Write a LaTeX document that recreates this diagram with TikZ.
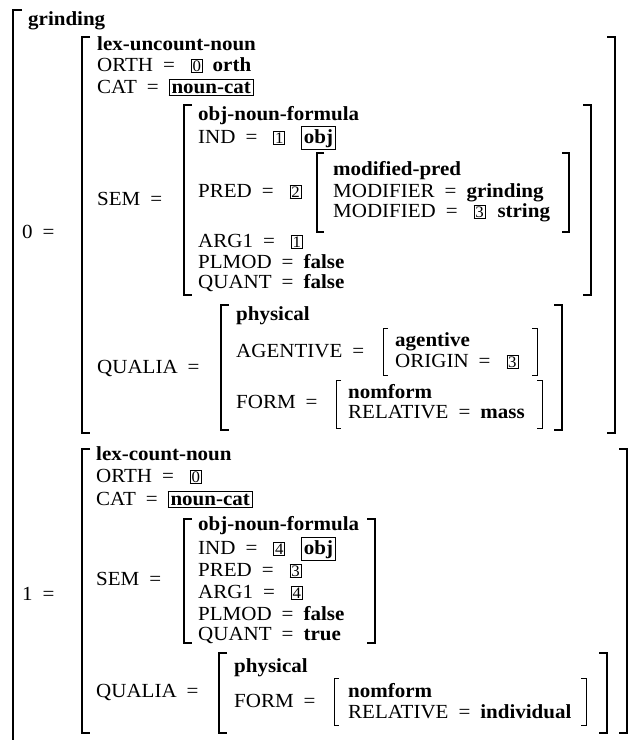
\documentclass[tikz,border=0pt]{standalone}
\usepackage{fontspec}
\setmainfont{Liberation Serif}[FakeStretch=1.05]
\usepackage{tikz}

\newcommand{\eqs}{\hspace{0.5em}=\hspace{0.5em}}
\newcommand{\tg}[1]{\hspace{0.3em}{\setlength{\fboxsep}{1pt}\setlength{\fboxrule}{0.7pt}\fbox{\fontsize{16}{16}\selectfont #1}}}
\newcommand{\bx}[1]{{\setlength{\fboxsep}{2pt}\setlength{\fboxrule}{0.8pt}\fbox{\textbf{#1}}}}
% style, hook, left x, right x, top y, bottom y
\newcommand{\avm}[6]{%
  \draw[#1] (#3+#2,#5) -- (#3,#5) -- (#3,#6) -- (#3+#2,#6);
  \draw[#1] (#4-#2,#5) -- (#4,#5) -- (#4,#6) -- (#4-#2,#6);}

\begin{document}
\begin{tikzpicture}[x=1pt,y=-1pt,
  txt/.style={anchor=base west,inner sep=0pt,font=\fontsize{20}{22}\selectfont},
  big/.style={line width=1.5pt},
  small/.style={line width=0.8pt}]
  \useasboundingbox (0,0) rectangle (641,740);
  % outer structure
  \draw[big] (22,10) -- (13,10) -- (13,741);
  \node[txt] (top) at (28,25) {\textbf{grinding}};
  % feature 0
  \node[txt] (f0) at (22,238) {0\eqs};
  \avm{big}{8}{82}{615}{37}{433}
  \node[txt] (type0) at (97,50) {\textbf{lex-uncount-noun}};
  \node[txt] (orth0) at (97,71) {ORTH\eqs\tg{0}\hspace{0.5em}\textbf{orth}};
  \node[txt] (cat0) at (97,93) {CAT\eqs\bx{noun-cat}};
  \node[txt] (sem0) at (97,205) {SEM\eqs};
  \avm{big}{8}{184}{591}{105}{295}
  \node[txt] (sty0) at (198,120) {\textbf{obj-noun-formula}};
  \node[txt] (ind0) at (198,143) {IND\eqs\tg{1}\hspace{0.8em}\bx{obj}};
  \node[txt] (pred0) at (198,197) {PRED\eqs\tg{2}};
  \avm{big}{7}{317}{569}{153}{232}
  \node[txt] (mp) at (333,175) {\textbf{modified-pred}};
  \node[txt] (mod) at (333,197) {MODIFIER\eqs\textbf{grinding}};
  \node[txt] (modd) at (333,217) {MODIFIED\eqs\tg{3}\hspace{0.6em}\textbf{string}};
  \node[txt] (arg0) at (198,247) {ARG1\eqs\tg{1}};
  \node[txt] (pl0) at (198,268) {PLMOD\eqs\textbf{false}};
  \node[txt] (qu0) at (198,288) {QUANT\eqs\textbf{false}};
  \node[txt] (qual0) at (97,373) {QUALIA\eqs};
  \avm{big}{8}{221}{562}{305}{430}
  \node[txt] (ph0) at (236,320) {\textbf{physical}};
  \node[txt] (ag0) at (236,357) {AGENTIVE\eqs};
  \avm{small}{5}{383}{537}{328}{375}
  \node[txt] (agt) at (395,346) {\textbf{agentive}};
  \node[txt] (ori) at (395,367) {ORIGIN\eqs\tg{3}};
  \node[txt] (fo0) at (236,408) {FORM\eqs};
  \avm{small}{5}{336}{542}{380}{428}
  \node[txt] (nf0) at (348,398) {\textbf{nomform}};
  \node[txt] (rel0) at (348,418) {RELATIVE\eqs\textbf{mass}};
  % feature 1
  \node[txt] (f1) at (22,600) {1\eqs};
  \avm{big}{8}{82}{627}{449}{733}
  \node[txt] (type1) at (96,460) {\textbf{lex-count-noun}};
  \node[txt] (orth1) at (96,482) {ORTH\eqs\tg{0}};
  \node[txt] (cat1) at (96,505) {CAT\eqs\bx{noun-cat}};
  \node[txt] (sem1) at (96,585) {SEM\eqs};
  \avm{big}{8}{184}{375}{519}{643}
  \node[txt] (sty1) at (198,530) {\textbf{obj-noun-formula}};
  \node[txt] (ind1) at (198,554) {IND\eqs\tg{4}\hspace{0.8em}\bx{obj}};
  \node[txt] (pred1) at (198,576) {PRED\eqs\tg{3}};
  \node[txt] (arg1) at (198,598) {ARG1\eqs\tg{4}};
  \node[txt] (pl1) at (198,620) {PLMOD\eqs\textbf{false}};
  \node[txt] (qu1) at (198,640) {QUANT\eqs\textbf{true}};
  \node[txt] (qual1) at (96,697) {QUALIA\eqs};
  \avm{big}{8}{219}{607}{653}{733}
  \node[txt] (ph1) at (234,672) {\textbf{physical}};
  \node[txt] (fo1) at (234,707) {FORM\eqs};
  \avm{small}{5}{334}{586}{678}{725}
  \node[txt] (nf1) at (348,697) {\textbf{nomform}};
  \node[txt] (rel1) at (348,718) {RELATIVE\eqs\textbf{individual}};
\end{tikzpicture}
\end{document}
